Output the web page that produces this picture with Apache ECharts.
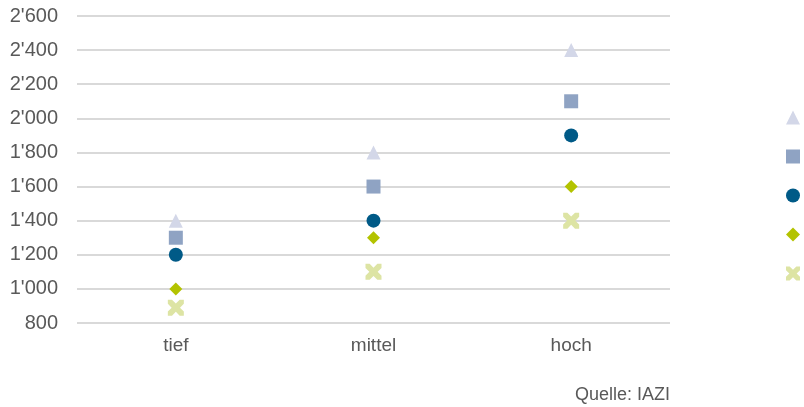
<!DOCTYPE html>
<html><head><meta charset="utf-8">
<script src="https://cdn.jsdelivr.net/npm/echarts@6/dist/echarts.min.js"></script>
<style>html,body{margin:0;padding:0;background:#fff}#c{width:804px;height:407px}</style>
</head><body><div id="c"></div>
<script>
const categories = ['tief', 'mittel', 'hoch'];
const seriesNames = ['90%-Quantil', '75%-Quantil', 'Median', '25%-Quantil', '10%-Quantil'];
const valuesTriangle = [1400, 1800, 2400];
const valuesSquare = [1300, 1600, 2100];
const valuesCircle = [1200, 1400, 1900];
const valuesDiamond = [1000, 1300, 1600];
const valuesCross = [890, 1100, 1400];
const yTicks = [800, 1000, 1200, 1400, 1600, 1800, 2000, 2200, 2400, 2600];

const crossPath = 'path://M0,0 L2.6,0 L5,2.4 L7.4,0 L10,0 L10,2.6 L7.6,5 L10,7.4 L10,10 L7.4,10 L5,7.6 L2.6,10 L0,10 L0,7.4 L2.4,5 L0,2.6 Z';
const defs = [
  {data: valuesTriangle, symbol: 'triangle', size: 14, color: '#d3d7e8'},
  {data: valuesSquare, symbol: 'rect', size: 14, color: '#8fa3c3'},
  {data: valuesCircle, symbol: 'circle', size: 14, color: '#005a87'},
  {data: valuesDiamond, symbol: 'diamond', size: 13, color: '#b3c300'},
  {data: valuesCross, symbol: crossPath, size: 16, color: '#dde4a4'}
];
const fmt = v => {
  const s = String(Math.round(v));
  return s.replace(/\B(?=(\d{3})+(?!\d))/g, "'");
};
const FONT = 'Arial, Liberation Sans, sans-serif';
const chart = echarts.init(document.getElementById('c'));
chart.setOption({
  animation: false,
  textStyle: {fontFamily: FONT},
  grid: {left: 77, right: 134, top: 16, bottom: 84},
  legend: {
    orient: 'vertical', left: 781, top: 105, itemWidth: 14, itemHeight: 14, itemGap: 24,
    textStyle: {color: '#595959', fontSize: 15},
    data: seriesNames
  },
  xAxis: {
    type: 'category', data: categories,
    axisLine: {show: false}, axisTick: {show: false},
    axisLabel: {color: '#595959', fontSize: 19, margin: 13}
  },
  yAxis: {
    type: 'value', min: yTicks[0], max: yTicks[yTicks.length - 1], interval: 200,
    axisLine: {show: false}, axisTick: {show: false},
    axisLabel: {color: '#595959', fontSize: 20, margin: 19, formatter: fmt},
    splitLine: {lineStyle: {color: '#d9d9d9', width: 2}}
  },
  graphic: [{
    type: 'text', right: 134, top: 386,
    style: {text: 'Quelle: IAZI', fill: '#595959', fontSize: 18, fontFamily: FONT}
  }],
  series: defs.map((d, i) => ({
    name: seriesNames[i], type: 'scatter', data: d.data,
    symbol: d.symbol, symbolSize: d.size,
    itemStyle: {color: d.color, opacity: 1}
  }))
});
</script></body></html>
